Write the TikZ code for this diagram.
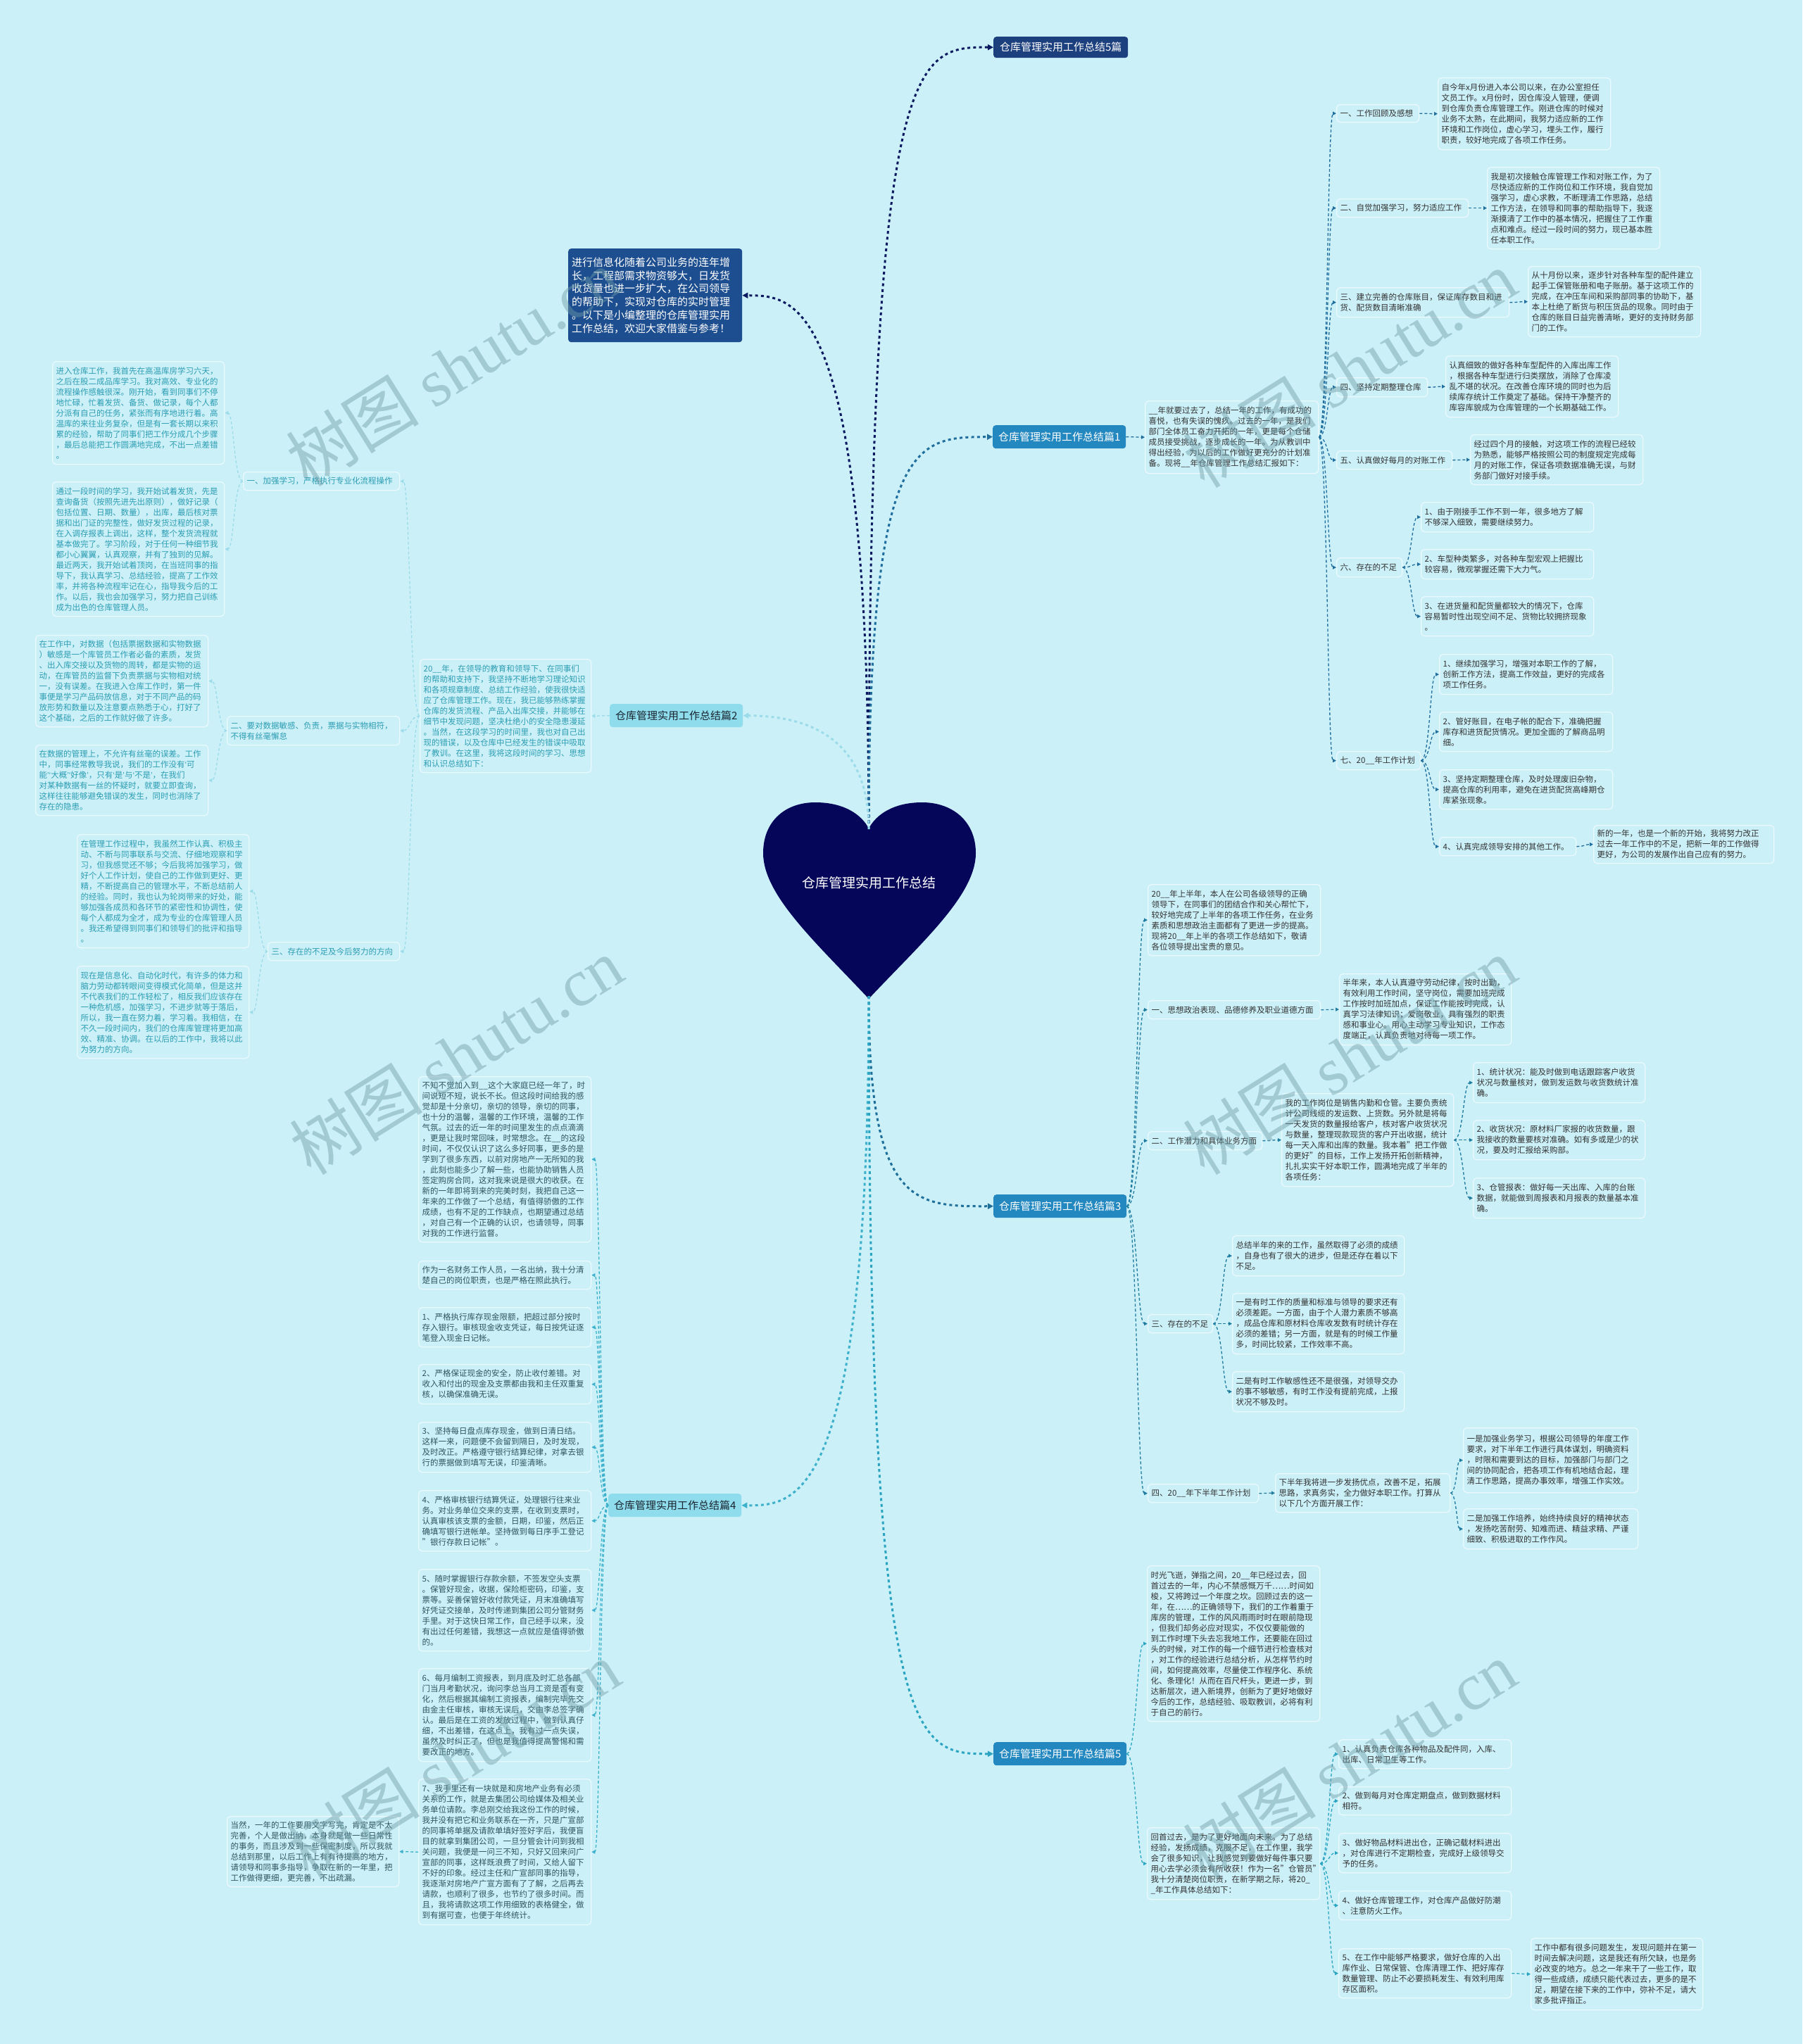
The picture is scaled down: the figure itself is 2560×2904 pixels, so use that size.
\documentclass[tikz,border=0pt]{standalone}
\usepackage{fontspec}
\setmainfont{Noto Sans CJK SC}
\newfontfamily\wmlatin{Liberation Serif}
\newfontfamily\lat{Liberation Sans}
\newcommand\qo{{\lat ‘}}
\newcommand\qc{{\lat ’}}
\usetikzlibrary{arrows.meta,calc}
\definecolor{bg}{HTML}{CBF0F8}
\definecolor{boxline}{HTML}{EAF9FD}
\definecolor{txtd}{HTML}{333333}
\definecolor{txtb}{HTML}{2C9DB3}
\definecolor{txtf}{HTML}{2E5560}
\definecolor{navy}{HTML}{05065A}
\definecolor{hdrdark}{HTML}{1C3F7E}
\definecolor{introc}{HTML}{1D4E8F}
\definecolor{hdrblue}{HTML}{2488C0}
\definecolor{hdrlight}{HTML}{8EDCEC}
\definecolor{hdrlighttxt}{HTML}{1A2530}
\definecolor{lnA}{HTML}{1F6E9E}
\definecolor{lnB}{HTML}{9CDCEA}
\definecolor{lnC}{HTML}{1F7BA0}
\definecolor{lnD}{HTML}{3DB1CB}
\definecolor{lnE}{HTML}{2AA4C1}
\definecolor{mainN}{HTML}{0B1A60}
\definecolor{mainT}{HTML}{1E6F9A}
\definecolor{wm}{HTML}{6F9DA8}
\tikzset{
 box/.style={draw=boxline, line width=1.3pt, rounded corners=5pt, fill=bg, inner xsep=5pt, inner ysep=2pt, align=left, font=\fontsize{11.5}{15}\selectfont, text=txtd},
 boxb/.style={box, text=txtb},
 boxf/.style={box, text=txtf},
 hdr/.style={rounded corners=4pt, inner sep=0pt, align=center, font=\fontsize{15}{18}\selectfont, text=white, anchor=north west, minimum width=189pt, minimum height=33pt},
 tipS/.style={-{Triangle[length=5pt,width=5pt]}},
 conA/.style={draw=lnA, line width=1.3pt, dash pattern=on 4pt off 3pt, tipS},
 conB/.style={draw=lnB, line width=1.3pt, dash pattern=on 4pt off 3pt, tipS},
 conC/.style={draw=lnC, line width=1.3pt, dash pattern=on 4pt off 3pt, tipS},
 conD/.style={draw=lnD, line width=1.3pt, dash pattern=on 4pt off 3pt, tipS},
 conE/.style={draw=lnE, line width=1.3pt, dash pattern=on 4pt off 3pt, tipS},
 mainline/.style={line width=3pt, dash pattern=on 4pt off 4.3pt, -{Triangle[length=8pt,width=8pt]}},
 wmk/.style={text=wm, opacity=0.45, rotate=32, font=\fontsize{95}{100}\selectfont}
}
\newcommand\tb[7]{\pgfmathsetmacro\tbw{#5-10}\node[#1,anchor=north west,text width=\tbw pt,minimum width=#5pt,minimum height=#6pt] (#2) at (#3,#4) {#7};}
\newcommand\lr[3]{\draw[#1] let \p1=(#2.east), \p2=(#3.west) in (\p1) .. controls ({(\x1+\x2)/2},\y1) and ({(\x1+\x2)/2},\y2) .. (\p2);}
\newcommand\rl[3]{\draw[#1] let \p1=(#2.west), \p2=(#3.east) in (\p1) .. controls ({(\x1+\x2)/2},\y1) and ({(\x1+\x2)/2},\y2) .. (\p2);}
\begin{document}
\begin{tikzpicture}[x=1pt,y=-1pt]
\useasboundingbox (0,0) rectangle (2560,2904);
\fill[bg] (0,0) rectangle (2560,2904);

% heart
\fill[navy] (1234,1419) .. controls (1160,1340) and (1084,1272) .. (1084,1212) .. controls (1084,1166) and (1116,1140) .. (1158,1140) .. controls (1200,1140) and (1224,1158) .. (1234,1177) .. controls (1244,1158) and (1268,1140) .. (1310,1140) .. controls (1352,1140) and (1386,1166) .. (1386,1212) .. controls (1386,1272) and (1308,1340) .. (1234,1419) -- cycle;
\node[text=white, font=\fontsize{19}{22}\selectfont] (heart) at (1234,1254) {仓库管理实用工作总结};
\coordinate (htop) at (1234,1178);
\coordinate (hbot) at (1234,1415);

% headers
\node[hdr, fill=hdrdark, minimum height=30pt, minimum width=191pt] (b0) at (1411,52) {仓库管理实用工作总结5篇};
\node[hdr, fill=introc, text width=237pt, minimum width=247pt, minimum height=133pt, align=left, inner xsep=5pt, font=\fontsize{15}{18.7}\selectfont] (intro) at (807,353) {进行信息化随着公司业务的连年增\\长，工程部需求物资够大，日发货\\收货量也进一步扩大，在公司领导\\的帮助下，实现对仓库的实时管理\\。以下是小编整理的仓库管理实用\\工作总结，欢迎大家借鉴与参考！};
\node[hdr, fill=hdrblue] (b1) at (1410,604) {仓库管理实用工作总结篇1};
\node[hdr, fill=hdrlight, text=hdrlighttxt] (b2) at (866,1000) {仓库管理实用工作总结篇2};
\node[hdr, fill=hdrblue] (b3) at (1411,1697) {仓库管理实用工作总结篇3};
\node[hdr, fill=hdrlight, text=hdrlighttxt] (b4) at (864,2122) {仓库管理实用工作总结篇4};
\node[hdr, fill=hdrblue] (b5) at (1411,2475) {仓库管理实用工作总结篇5};

% ===== B1
\tb{box}{b1d}{1626}{569}{246}{103}{\_\_年就要过去了，总结一年的工作，有成功的\\喜悦，也有失误的愧疚。过去的一年，是我们\\部门全体员工奋力开拓的一年，更是每个仓储\\成员接受挑战，逐步成长的一年。为从教训中\\得出经验，为以后的工作做好更充分的计划准\\备。现将\_\_年仓库管理工作总结汇报如下：}
\tb{box}{b1s1}{1898}{148}{117}{25}{一、工作回顾及感想}
\tb{box}{b1s1a}{2042}{110}{245}{102}{自今年x月份进入本公司以来，在办公室担任\\文员工作。x月份时，因仓库没人管理，便调\\到仓库负责仓库管理工作。刚进仓库的时候对\\业务不太熟，在此期间，我努力适应新的工作\\环境和工作岗位，虚心学习，埋头工作，履行\\职责，较好地完成了各项工作任务。}
\tb{box}{b1s2}{1898}{282}{187}{26}{二、自觉加强学习，努力适应工作}
\tb{box}{b1s2a}{2112}{237}{245}{116}{我是初次接触仓库管理工作和对账工作，为了\\尽快适应新的工作岗位和工作环境，我自觉加\\强学习，虚心求教，不断理清工作思路，总结\\工作方法，在领导和同事的帮助指导下，我逐\\渐摸清了工作中的基本情况，把握住了工作重\\点和难点。经过一段时间的努力，现已基本胜\\任本职工作。}
\tb{box}{b1s3}{1898}{408}{245}{42}{三、建立完善的仓库账目，保证库存数目和进\\货、配货数目清晰准确}
\tb{box}{b1s3a}{2170}{378}{245}{100}{从十月份以来，逐步针对各种车型的配件建立\\起手工保管账册和电子账册。基于这项工作的\\完成，在冲压车间和采购部同事的协助下，基\\本上杜绝了断货与积压货品的现象。同时由于\\仓库的账目日益完善清晰，更好的支持财务部\\门的工作。}
\tb{box}{b1s4}{1898}{536}{129}{27}{四、坚持定期整理仓库}
\tb{box}{b1s4a}{2053}{505}{245}{87}{认真细致的做好各种车型配件的入库出库工作\\，根据各种车型进行归类摆放，消除了仓库凌\\乱不堪的状况。在改善仓库环境的同时也为后\\续库存统计工作奠定了基础。保持干净整齐的\\库容库貌成为仓库管理的一个长期基础工作。}
\tb{box}{b1s5}{1898}{640}{164}{26}{五、认真做好每月的对账工作}
\tb{box}{b1s5a}{2088}{617}{245}{71}{经过四个月的接触，对这项工作的流程已经较\\为熟悉，能够严格按照公司的制度规定完成每\\月的对账工作，保证各项数据准确无误，与财\\务部门做好对接手续。}
\tb{box}{b1s6}{1898}{792}{93}{27}{六、存在的不足}
\tb{box}{b1s6a}{2018}{713}{245}{42}{1、由于刚接手工作不到一年，很多地方了解\\不够深入细致，需要继续努力。}
\tb{box}{b1s6b}{2018}{780}{245}{42}{2、车型种类繁多，对各种车型宏观上把握比\\较容易，微观掌握还需下大力气。}
\tb{box}{b1s6c}{2018}{847}{245}{56}{3、在进货量和配货量都较大的情况下，仓库\\容易暂时性出现空间不足、货物比较拥挤现象\\。}
\tb{box}{b1s7}{1898}{1067}{119}{26}{七、20\_\_年工作计划}
\tb{box}{b1s7a}{2044}{929}{246}{57}{1、继续加强学习，增强对本职工作的了解，\\创新工作方法，提高工作效益，更好的完成各\\项工作任务。}
\tb{box}{b1s7b}{2044}{1011}{246}{56}{2、管好账目，在电子帐的配合下，准确把握\\库存和进货配货情况。更加全面的了解商品明\\细。}
\tb{box}{b1s7c}{2044}{1093}{246}{56}{3、坚持定期整理仓库，及时处理废旧杂物，\\提高仓库的利用率，避免在进货配货高峰期仓\\库紧张现象。}
\tb{box}{b1s7d}{2044}{1189}{194}{26}{4、认真完成领导安排的其他工作。}
\tb{box}{b1s7e}{2263}{1172}{256}{54}{新的一年，也是一个新的开始，我将努力改正\\过去一年工作中的不足，把新一年的工作做得\\更好，为公司的发展作出自己应有的努力。}

% ===== B2
\tb{boxb}{b2d}{596}{936}{243}{161}{20\_\_年，在领导的教育和领导下、在同事们\\的帮助和支持下，我坚持不断地学习理论知识\\和各项规章制度、总结工作经验，使我很快适\\应了仓库管理工作。现在，我已能够熟练掌握\\仓库的发货流程、产品入出库交接，并能够在\\细节中发现问题，坚决杜绝小的安全隐患漫延\\。当然，在这段学习的时间里，我也对自己出\\现的错误，以及仓库中已经发生的错误中吸取\\了教训。在这里，我将这段时间的学习、思想\\和认识总结如下：}
\tb{boxb}{b2s1}{345}{670}{222}{26}{一、加强学习，严格执行专业化流程操作}
\tb{boxb}{b2s1a}{74}{513}{244}{146}{进入仓库工作，我首先在高温库房学习六天，\\之后在股二成品库学习。我对高效、专业化的\\流程操作感触很深。刚开始，看到同事们不停\\地忙碌，忙着发货、备货、做记录，每个人都\\分派有自己的任务，紧张而有序地进行着。高\\温库的来往业务复杂，但是有一套长期以来积\\累的经验，帮助了同事们把工作分成几个步骤\\，最后总能把工作圆满地完成，不出一点差错\\。}
\tb{boxb}{b2s1b}{74}{684}{244}{191}{通过一段时间的学习，我开始试着发货，先是\\查询备货（按照先进先出原则），做好记录（\\包括位置、日期、数量），出库，最后核对票\\据和出门证的完整性，做好发货过程的记录，\\在入调存报表上调出，这样，整个发货流程就\\基本做完了。学习阶段，对于任何一种细节我\\都小心翼翼，认真观察，并有了独到的见解。\\最近两天，我开始试着顶岗，在当班同事的指\\导下，我认真学习、总结经验，提高了工作效\\率，并将各种流程牢记在心，指导我今后的工\\作。以后，我也会加强学习，努力把自己训练\\成为出色的仓库管理人员。}
\tb{boxb}{b2s2}{322}{1017}{245}{41}{二、要对数据敏感、负责，票据与实物相符，\\不得有丝毫懈怠}
\tb{boxb}{b2s2a}{50}{902}{245}{130}{在工作中，对数据（包括票据数据和实物数据\\）敏感是一个库管员工作者必备的素质，发货\\、出入库交接以及货物的周转，都是实物的运\\动，在库管员的监督下负责票据与实物相对统\\一，没有误差。在我进入仓库工作时，第一件\\事便是学习产品码放信息，对于不同产品的码\\放形势和数量以及注意要点熟悉于心，打好了\\这个基础，之后的工作就好做了许多。}
\tb{boxb}{b2s2b}{50}{1058}{245}{100}{在数据的管理上，不允许有丝毫的误差。工作\\中，同事经常教导我说，我们的工作没有\qo 可\\能\qc\qo 大概\qc\qo 好像\qc，只有\qo 是\qc 与\qo 不是\qc，在我们\\对某种数据有一丝的怀疑时，就要立即查询，\\这样往往能够避免错误的发生，同时也消除了\\存在的隐患。}
\tb{boxb}{b2s3}{380}{1338}{187}{26}{三、存在的不足及今后努力的方向}
\tb{boxb}{b2s3a}{109}{1185}{244}{161}{在管理工作过程中，我虽然工作认真、积极主\\动、不断与同事联系与交流、仔细地观察和学\\习，但我感觉还不够；今后我将加强学习，做\\好个人工作计划，使自己的工作做到更好、更\\精，不断提高自己的管理水平，不断总结前人\\的经验。同时，我也认为轮岗带来的好处，能\\够加强各成员和各环节的紧密性和协调性，使\\每个人都成为全才，成为专业的仓库管理人员\\。我还希望得到同事们和领导们的批评和指导\\。}
\tb{boxb}{b2s3b}{109}{1372}{244}{131}{现在是信息化、自动化时代，有许多的体力和\\脑力劳动都转眼间变得模式化简单，但是这并\\不代表我们的工作轻松了，相反我们应该存在\\一种危机感，加强学习，不进步就等于落后，\\所以，我一直在努力着，学习着。我相信，在\\不久一段时间内，我们的仓库库管理将更加高\\效、精准、协调。在以后的工作中，我将以此\\为努力的方向。}

% ===== B3
\tb{box}{b3d}{1630}{1256}{245}{101}{20\_\_年上半年，本人在公司各级领导的正确\\领导下，在同事们的团结合作和关心帮忙下，\\较好地完成了上半年的各项工作任务，在业务\\素质和思想政治主面都有了更进一步的提高。\\现将20\_\_年上半的各项工作总结如下，敬请\\各位领导提出宝贵的意见。}
\tb{box}{b3s1}{1630}{1421}{245}{26}{一、思想政治表现、品德修养及职业道德方面}
\tb{box}{b3s1a}{1902}{1383}{244}{101}{半年来，本人认真遵守劳动纪律，按时出勤，\\有效利用工作时间，坚守岗位，需要加班完成\\工作按时加班加点，保证工作能按时完成，认\\真学习法律知识；爱岗敬业，具有强烈的职责\\感和事业心。用心主动学习专业知识，工作态\\度端正，认真负责地对待每一项工作。}
\tb{box}{b3s2}{1630}{1607}{162}{26}{二、工作潜力和具体业务方面}
\tb{box}{b3s2a}{1820}{1553}{244}{132}{我的工作岗位是销售内勤和仓管。主要负责统\\计公司线缆的发运数、上货数。另外就是将每\\一天发货的数量报给客户，核对客户收货状况\\与数量，整理现款现货的客户开出收据，统计\\每一天入库和出库的数量。我本着"把工作做\\的更好"的目标，工作上发扬开拓创新精神，\\扎扎实实干好本职工作，圆满地完成了半年的\\各项任务：}
\tb{box}{b3s2b}{2092}{1509}{244}{57}{1、统计状况：能及时做到电话跟踪客户收货\\状况与数量核对，做到发运数与收货数统计准\\确。}
\tb{box}{b3s2c}{2092}{1591}{244}{56}{2、收货状况：原材料厂家报的收货数量，跟\\我接收的数量要核对准确。如有多或是少的状\\况，要及时汇报给采购部。}
\tb{box}{b3s2d}{2092}{1673}{244}{57}{3、仓管报表：做好每一天出库、入库的台账\\数据，就能做到周报表和月报表的数量基本准\\确。}
\tb{box}{b3s3}{1630}{1867}{92}{26}{三、存在的不足}
\tb{box}{b3s3a}{1750}{1755}{244}{57}{总结半年的来的工作，虽然取得了必须的成绩\\，自身也有了很大的进步，但是还存在着以下\\不足。}
\tb{box}{b3s3b}{1750}{1837}{244}{86}{一是有时工作的质量和标准与领导的要求还有\\必须差距。一方面，由于个人潜力素质不够高\\，成品仓库和原材料仓库收发数有时统计存在\\必须的差错；另一方面，就是有的时候工作量\\多，时间比较紧，工作效率不高。}
\tb{box}{b3s3c}{1750}{1948}{244}{57}{二是有时工作敏感性还不是很强，对领导交办\\的事不够敏感，有时工作没有提前完成，上报\\状况不够及时。}
\tb{box}{b3s4}{1630}{2108}{157}{26}{四、20\_\_年下半年工作计划}
\tb{box}{b3s4a}{1811}{2093}{248}{55}{下半年我将进一步发扬优点，改善不足，拓展\\思路，求真务实，全力做好本职工作。打算从\\以下几个方面开展工作：}
\tb{box}{b3s4b}{2078}{2028}{248}{92}{一是加强业务学习，根据公司领导的年度工作\\要求，对下半年工作进行具体谋划，明确资料\\，时限和需要到达的目标，加强部门与部门之\\间的协同配合，把各项工作有机地结合起，理\\清工作思路，提高办事效率，增强工作实效。}
\tb{box}{b3s4c}{2078}{2143}{248}{57}{二是加强工作培养，始终持续良好的精神状态\\，发扬吃苦耐劳、知难而进、精益求精、严谨\\细致、积极进取的工作作风。}

% ===== B4
\tb{boxf}{b4a}{594}{1529}{245}{235}{不知不觉加入到\_\_这个大家庭已经一年了，时\\间说短不短，说长不长。但这段时间给我的感\\觉却是十分亲切，亲切的领导，亲切的同事，\\也十分的温馨，温馨的工作环境，温馨的工作\\气氛。过去的近一年的时间里发生的点点滴滴\\，更是让我时常回味，时常想念。在\_\_的这段\\时间，不仅仅认识了这么多好同事，更多的是\\学到了很多东西，以前对房地产一无所知的我\\，此刻也能多少了解一些，也能协助销售人员\\签定购房合同，这对我来说是很大的收获。在\\新的一年即将到来的完美时刻，我把自己这一\\年来的工作做了一个总结，有值得骄傲的工作\\成绩，也有不足的工作缺点，也期望通过总结\\，对自己有一个正确的认识，也请领导，同事\\对我的工作进行监督。}
\tb{boxf}{b4b}{594}{1791}{245}{40}{作为一名财务工作人员，一名出纳，我十分清\\楚自己的岗位职责，也是严格在照此执行。}
\tb{boxf}{b4c}{594}{1857}{245}{56}{1、严格执行库存现金限额，把超过部分按时\\存入银行。审核现金收支凭证，每日按凭证逐\\笔登入现金日记帐。}
\tb{boxf}{b4d}{594}{1938}{245}{56}{2、严格保证现金的安全，防止收付差错。对\\收入和付出的现金及支票都由我和主任双重复\\核，以确保准确无误。}
\tb{boxf}{b4e}{594}{2020}{245}{71}{3、坚持每日盘点库存现金，做到日清日结。\\这样一来，问题便不会留到隔日，及时发现，\\及时改正。严格遵守银行结算纪律，对拿去银\\行的票据做到填写无误，印鉴清晰。}
\tb{boxf}{b4f}{594}{2117}{245}{86}{4、严格审核银行结算凭证，处理银行往来业\\务。对业务单位交来的支票，在收到支票时，\\认真审核该支票的金额，日期，印鉴，然后正\\确填写银行进帐单。坚持做到每日序手工登记\\"银行存款日记帐"。}
\tb{boxf}{b4g}{594}{2229}{245}{116}{5、随时掌握银行存款余额，不签发空头支票\\。保管好现金，收据，保险柜密码，印鉴，支\\票等。妥善保管好收付款凭证，月末准确填写\\好凭证交接单，及时传递到集团公司分管财务\\手里。对于这快日常工作，自己经手以来，没\\有出过任何差错，我想这一点就应是值得骄傲\\的。}
\tb{boxf}{b4h}{594}{2370}{245}{132}{6、每月编制工资报表，到月底及时汇总各部\\门当月考勤状况，询问李总当月工资是否有变\\化，然后根据其编制工资报表，编制完毕先交\\由金主任审核，审核无误后，交由李总签字确\\认。最后是在工资的发放过程中，做到认真仔\\细，不出差错，在这点上，我有过一点失误，\\虽然及时纠正了，但也是我值得提高警惕和需\\要改正的地方。}
\tb{boxf}{b4i}{594}{2527}{245}{207}{7、我手里还有一块就是和房地产业务有必须\\关系的工作，就是去集团公司给媒体及相关业\\务单位请款。李总刚交给我这份工作的时候，\\我并没有把它和业务联系在一齐，只是广宣部\\的同事将单据及请款单填好签好字后，我便盲\\目的就拿到集团公司，一旦分管会计问到我相\\关问题，我便是一问三不知，只好又回来问广\\宣部的同事，这样既浪费了时间，又给人留下\\不好的印象。经过主任和广宣部同事的指导，\\我逐渐对房地产广宣方面有了了解，之后再去\\请款，也顺利了很多，也节约了很多时间。而\\且，我将请款这项工作用细致的表格健全，做\\到有据可查，也便于年终统计。}
\tb{boxf}{b4j}{322}{2580}{244}{100}{当然，一年的工作要用文字写完，肯定是不太\\完善，个人是做出纳，本身就是做一些日常性\\的事务，而且涉及到一些保密制度，所以我就\\总结到那里，以后工作上有有待提高的地方，\\请领导和同事多指导，争取在新的一年里，把\\工作做得更细，更完善，不出疏漏。}

% ===== B5
\tb{box}{b5a}{1629}{2224}{245}{221}{时光飞逝，弹指之间，20\_\_年已经过去，回\\首过去的一年，内心不禁感慨万千……时间如\\梭，又将跨过一个年度之坎。回顾过去的这一\\年，在……的正确领导下，我们的工作着重于\\库房的管理，工作的风风雨雨时时在眼前隐现\\，但我们却务必应对现实，不仅仅要能做的\\到工作时埋下头去忘我地工作，还要能在回过\\头的时候，对工作的每一个细节进行检查核对\\，对工作的经验进行总结分析，从怎样节约时\\间，如何提高效率，尽量使工作程序化、系统\\化、条理化！从而在百尺杆头，更进一步，到\\达新层次，进入新境界，创新为了更好地做好\\今后的工作，总结经验、吸取教训，必将有利\\于自己的前行。}
\tb{box}{b5b}{1629}{2596}{245}{102}{回首过去，是为了更好地面向未来。为了总结\\经验，发扬成绩，克服不足，在工作里，我学\\会了很多知识，让我感觉到要做好每件事只要\\用心去学必须会有所收获！作为一名"仓管员"\\我十分清楚岗位职责，在新学期之际，将20\_\\\_年工作具体总结如下：}
\tb{box}{b5b1}{1901}{2471}{245}{41}{1、认真负责仓库各种物品及配件同，入库、\\出库、日常卫生等工作。}
\tb{box}{b5b2}{1901}{2538}{245}{40}{2、做到每月对仓库定期盘点，做到数据材料\\相符。}
\tb{box}{b5b3}{1901}{2604}{245}{56}{3、做好物品材料进出仓，正确记载材料进出\\，对仓库进行不定期检查，完成好上级领导交\\予的任务。}
\tb{box}{b5b4}{1901}{2686}{245}{41}{4、做好仓库管理工作，对仓库产品做好防潮\\、注意防火工作。}
\tb{box}{b5b5}{1901}{2768}{245}{70}{5、在工作中能够严格要求，做好仓库的入出\\库作业、日常保管、仓库清理工作、把好库存\\数量管理、防止不必要损耗发生、有效利用库\\存区面积。}
\tb{box}{b5b6}{2174}{2753}{244}{102}{工作中都有很多问题发生，发现问题并在第一\\时间去解决问题，这是我还有所欠缺，也是务\\必改变的地方。总之一年来干了一些工作，取\\得一些成绩，成绩只能代表过去，更多的是不\\足，期望在接下来的工作中，弥补不足，请大\\家多批评指正。}

% ===== main connectors
\draw[mainline, draw=mainN] (htop) .. controls (1234,67) and (1300,67) .. (b0.west);
\draw[mainline, draw=mainN] (htop) .. controls (1234,420) and (1130,420) .. (intro.east);
\draw[mainline, draw=lnA] (htop) .. controls (1234,621) and (1300,621) .. (b1.west);
\draw[mainline, draw=lnB] (htop) .. controls (1234,1050) and (1150,1017) .. (b2.east);
\draw[mainline, draw=mainT] (hbot) .. controls (1234,1714) and (1300,1714) .. (b3.west);
\draw[mainline, draw=lnD] (hbot) .. controls (1234,2139) and (1130,2139) .. (b4.east);
\draw[mainline, draw=lnE] (hbot) .. controls (1234,2492) and (1300,2492) .. (b5.west);

% ===== B1 connectors
\lr{conA}{b1}{b1d}
\foreach \q in {b1s1,b1s2,b1s3,b1s4,b1s5,b1s6,b1s7} {\lr{conA}{b1d}{\q}}
\lr{conA}{b1s1}{b1s1a}
\lr{conA}{b1s2}{b1s2a}
\lr{conA}{b1s3}{b1s3a}
\lr{conA}{b1s4}{b1s4a}
\lr{conA}{b1s5}{b1s5a}
\foreach \q in {b1s6a,b1s6b,b1s6c} {\lr{conA}{b1s6}{\q}}
\foreach \q in {b1s7a,b1s7b,b1s7c,b1s7d} {\lr{conA}{b1s7}{\q}}
\lr{conA}{b1s7d}{b1s7e}

% ===== B2 connectors
\rl{conB}{b2}{b2d}
\foreach \q in {b2s1,b2s2,b2s3} {\rl{conB}{b2d}{\q}}
\foreach \q in {b2s1a,b2s1b} {\rl{conB}{b2s1}{\q}}
\foreach \q in {b2s2a,b2s2b} {\rl{conB}{b2s2}{\q}}
\foreach \q in {b2s3a,b2s3b} {\rl{conB}{b2s3}{\q}}

% ===== B3 connectors
\foreach \q in {b3d,b3s1,b3s2,b3s3,b3s4} {\lr{conC}{b3}{\q}}
\lr{conC}{b3s1}{b3s1a}
\lr{conC}{b3s2}{b3s2a}
\foreach \q in {b3s2b,b3s2c,b3s2d} {\lr{conC}{b3s2a}{\q}}
\foreach \q in {b3s3a,b3s3b,b3s3c} {\lr{conC}{b3s3}{\q}}
\lr{conC}{b3s4}{b3s4a}
\foreach \q in {b3s4b,b3s4c} {\lr{conC}{b3s4a}{\q}}

% ===== B4 connectors
\foreach \q in {b4a,b4b,b4c,b4d,b4e,b4f,b4g,b4h,b4i} {\rl{conD}{b4}{\q}}
\rl{conD}{b4i}{b4j}

% ===== B5 connectors
\foreach \q in {b5a,b5b} {\lr{conE}{b5}{\q}}
\foreach \q in {b5b1,b5b2,b5b3,b5b4,b5b5} {\lr{conE}{b5b}{\q}}
\lr{conE}{b5b5}{b5b6}

% watermarks
\foreach \wx/\wy [count=\i] in {643/522,1917/524,648/1500,1917/1500,644/2500,1917/2500}
  {\node[wmk] (wm\i) at (\wx,\wy) {树图 {\wmlatin shutu.cn}};}
\end{tikzpicture}
\end{document}
